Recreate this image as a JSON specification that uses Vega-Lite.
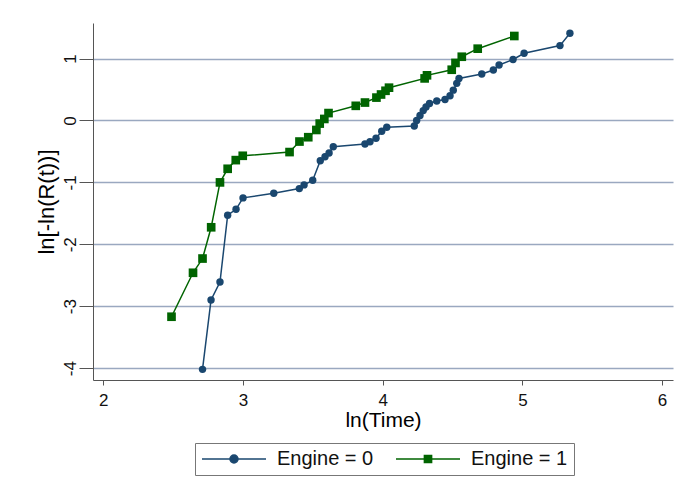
{
  "$schema": "https://vega.github.io/schema/vega-lite/v6.json",
  "autosize": {"type": "none"},
  "width": 580,
  "height": 357,
  "padding": {"left": 93, "top": 23, "right": 7, "bottom": 119},
  "background": "white",
  "config": {
    "view": {"stroke": null},
    "font": "Liberation Sans",
    "axis": {"labelFont": "Liberation Sans", "titleFont": "Liberation Sans", "labelColor": "#111", "titleColor": "#000", "titleFontWeight": "normal", "domainColor": "#555", "tickColor": "#555"}
  },
  "data": {"values": [
    {"t": 2.710, "s": -4.02, "series": "Engine = 0"},
    {"t": 2.771, "s": -2.90, "series": "Engine = 0"},
    {"t": 2.835, "s": -2.61, "series": "Engine = 0"},
    {"t": 2.890, "s": -1.53, "series": "Engine = 0"},
    {"t": 2.950, "s": -1.435, "series": "Engine = 0"},
    {"t": 3.000, "s": -1.25, "series": "Engine = 0"},
    {"t": 3.220, "s": -1.176, "series": "Engine = 0"},
    {"t": 3.403, "s": -1.10, "series": "Engine = 0"},
    {"t": 3.437, "s": -1.04, "series": "Engine = 0"},
    {"t": 3.499, "s": -0.966, "series": "Engine = 0"},
    {"t": 3.553, "s": -0.65, "series": "Engine = 0"},
    {"t": 3.587, "s": -0.585, "series": "Engine = 0"},
    {"t": 3.616, "s": -0.525, "series": "Engine = 0"},
    {"t": 3.646, "s": -0.423, "series": "Engine = 0"},
    {"t": 3.873, "s": -0.38, "series": "Engine = 0"},
    {"t": 3.909, "s": -0.342, "series": "Engine = 0"},
    {"t": 3.952, "s": -0.288, "series": "Engine = 0"},
    {"t": 3.993, "s": -0.175, "series": "Engine = 0"},
    {"t": 4.029, "s": -0.11, "series": "Engine = 0"},
    {"t": 4.226, "s": -0.09, "series": "Engine = 0"},
    {"t": 4.243, "s": 0.0, "series": "Engine = 0"},
    {"t": 4.267, "s": 0.08, "series": "Engine = 0"},
    {"t": 4.290, "s": 0.16, "series": "Engine = 0"},
    {"t": 4.310, "s": 0.22, "series": "Engine = 0"},
    {"t": 4.335, "s": 0.275, "series": "Engine = 0"},
    {"t": 4.387, "s": 0.315, "series": "Engine = 0"},
    {"t": 4.446, "s": 0.34, "series": "Engine = 0"},
    {"t": 4.482, "s": 0.40, "series": "Engine = 0"},
    {"t": 4.505, "s": 0.49, "series": "Engine = 0"},
    {"t": 4.530, "s": 0.60, "series": "Engine = 0"},
    {"t": 4.546, "s": 0.68, "series": "Engine = 0"},
    {"t": 4.709, "s": 0.75, "series": "Engine = 0"},
    {"t": 4.792, "s": 0.816, "series": "Engine = 0"},
    {"t": 4.833, "s": 0.897, "series": "Engine = 0"},
    {"t": 4.933, "s": 0.985, "series": "Engine = 0"},
    {"t": 5.012, "s": 1.085, "series": "Engine = 0"},
    {"t": 5.269, "s": 1.21, "series": "Engine = 0"},
    {"t": 5.340, "s": 1.41, "series": "Engine = 0"},
    {"t": 2.488, "s": -3.17, "series": "Engine = 1"},
    {"t": 2.642, "s": -2.46, "series": "Engine = 1"},
    {"t": 2.710, "s": -2.23, "series": "Engine = 1"},
    {"t": 2.772, "s": -1.725, "series": "Engine = 1"},
    {"t": 2.835, "s": -1.0, "series": "Engine = 1"},
    {"t": 2.890, "s": -0.78, "series": "Engine = 1"},
    {"t": 2.948, "s": -0.64, "series": "Engine = 1"},
    {"t": 2.998, "s": -0.57, "series": "Engine = 1"},
    {"t": 3.333, "s": -0.51, "series": "Engine = 1"},
    {"t": 3.404, "s": -0.34, "series": "Engine = 1"},
    {"t": 3.467, "s": -0.27, "series": "Engine = 1"},
    {"t": 3.525, "s": -0.153, "series": "Engine = 1"},
    {"t": 3.549, "s": -0.05, "series": "Engine = 1"},
    {"t": 3.582, "s": 0.025, "series": "Engine = 1"},
    {"t": 3.612, "s": 0.12, "series": "Engine = 1"},
    {"t": 3.807, "s": 0.237, "series": "Engine = 1"},
    {"t": 3.873, "s": 0.29, "series": "Engine = 1"},
    {"t": 3.955, "s": 0.37, "series": "Engine = 1"},
    {"t": 3.988, "s": 0.42, "series": "Engine = 1"},
    {"t": 4.020, "s": 0.48, "series": "Engine = 1"},
    {"t": 4.045, "s": 0.53, "series": "Engine = 1"},
    {"t": 4.300, "s": 0.68, "series": "Engine = 1"},
    {"t": 4.317, "s": 0.73, "series": "Engine = 1"},
    {"t": 4.494, "s": 0.82, "series": "Engine = 1"},
    {"t": 4.521, "s": 0.93, "series": "Engine = 1"},
    {"t": 4.566, "s": 1.03, "series": "Engine = 1"},
    {"t": 4.680, "s": 1.16, "series": "Engine = 1"},
    {"t": 4.942, "s": 1.365, "series": "Engine = 1"}
  ]},
  "encoding": {
    "x": {"field": "t", "type": "quantitative",
      "scale": {"domain": [1.926, 6.078], "nice": false, "zero": false},
      "axis": {"title": "ln(Time)", "values": [2, 3, 4, 5, 6], "grid": false, "tickSize": 5, "labelPadding": 7, "labelFontSize": 17, "labelFlush": false,
        "titleFontSize": 21, "titleX": 290, "titleY": 46, "titleBaseline": "alphabetic", "titleAlign": "center"}},
    "y": {"field": "s", "type": "quantitative",
      "scale": {"domain": [-4.192, 1.575], "nice": false, "zero": false},
      "axis": {"title": "ln[-ln(R(t))]", "values": [-4, -3, -2, -1, 0, 1], "grid": true, "gridColor": "#9AA8C0", "gridWidth": 1.5,
        "labelExpr": "datum.value + ''",
        "tickSize": 14, "labelPadding": 0, "labelFontSize": 17, "labelAngle": -90, "labelAlign": "center", "labelBaseline": "bottom", "labelFlush": false,
        "titleFontSize": 22, "titleAngle": -90, "titleX": -47, "titleY": 178.5, "titleAlign": "center", "titleBaseline": "middle"}},
    "color": {"field": "series", "type": "nominal",
      "scale": {"domain": ["Engine = 0", "Engine = 1"], "range": ["#1A476F", "#006400"]},
      "legend": {"title": null, "orient": "none", "legendX": 102, "legendY": 420, "direction": "horizontal",
        "strokeColor": "#777", "fillColor": "white", "padding": 6, "symbolSize": 64, "labelOffset": 56, "columnPadding": 19,
        "labelFontSize": 20, "labelFont": "Liberation Sans", "labelColor": "#111",
        "encode": {"symbols": {"update": {
          "shape": {"signal": "datum.value === 'Engine = 0' ? 'M-2.25,0H13.75M4.75,0A1,1,0,1,0,6.75,0A1,1,0,1,0,4.75,0Z' : 'M-2.25,0H13.75M4.85,-0.9H6.65V0.9H4.85Z'"},
          "size": {"value": 64},
          "fill": {"signal": "scale('color', datum.value)"},
          "stroke": {"signal": "scale('color', datum.value)"},
          "strokeWidth": {"value": 1.5},
          "opacity": {"value": 1}
        }}}}}
  },
  "layer": [
    {"mark": {"type": "line", "strokeWidth": 1.5}},
    {"transform": [{"filter": "datum.series === 'Engine = 0'"}],
      "mark": {"type": "point", "shape": "circle", "filled": true, "opacity": 1, "size": 55}},
    {"transform": [{"filter": "datum.series === 'Engine = 1'"}],
      "mark": {"type": "point", "shape": "square", "filled": true, "opacity": 1, "size": 75}}
  ]
}
